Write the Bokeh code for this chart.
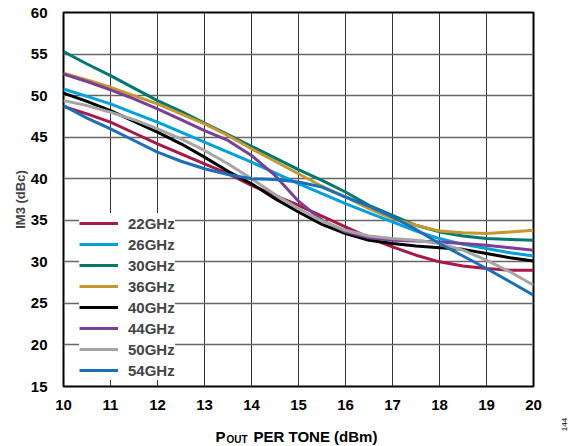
from bokeh.plotting import figure
from bokeh.layouts import column
from bokeh.models import Legend, LegendItem, Range1d, FixedTicker, LinearAxis
from bokeh.core.properties import value
from bokeh.embed import file_html
from bokeh.resources import INLINE

# ---- data (at half-dBm steps) ----
pout = [10, 10.5, 11, 11.5, 12, 12.5, 13, 13.5, 14, 14.5, 15,
        15.5, 16, 16.5, 17, 17.5, 18, 18.5, 19, 19.5, 20]
im3_22 = [48.7, 47.8, 46.8, 45.5, 44.2, 43.0, 41.8, 40.6, 39.2, 38.0, 36.8,
          35.5, 34.2, 32.9, 31.8, 30.8, 30.0, 29.5, 29.2, 29.0, 29.0]
im3_26 = [50.8, 49.9, 49.0, 47.9, 46.8, 45.6, 44.4, 43.2, 42.0, 40.7, 39.4,
          38.2, 37.0, 35.9, 34.8, 33.7, 32.8, 32.1, 31.6, 31.1, 30.7]
im3_30 = [55.3, 53.8, 52.4, 50.9, 49.4, 48.1, 46.7, 45.3, 43.9, 42.5, 41.1,
          39.8, 38.4, 36.8, 35.6, 34.4, 33.6, 33.1, 32.8, 32.7, 32.6]
im3_36 = [52.7, 51.9, 51.0, 50.0, 49.0, 47.8, 46.6, 45.2, 43.6, 42.1, 40.6,
          39.1, 37.8, 36.4, 35.2, 34.4, 33.7, 33.5, 33.4, 33.6, 33.8]
im3_40 = [50.3, 49.3, 48.2, 46.9, 45.6, 44.2, 42.6, 40.9, 39.4, 37.6, 36.0,
          34.5, 33.4, 32.6, 32.2, 31.9, 31.7, 31.5, 31.0, 30.5, 30.1]
im3_44 = [52.6, 51.7, 50.7, 49.6, 48.4, 47.1, 45.8, 44.6, 42.8, 40.4, 37.3,
          35.0, 33.6, 32.9, 32.6, 32.5, 32.4, 32.2, 32.0, 31.7, 31.4]
im3_50 = [49.4, 48.8, 48.0, 47.1, 46.0, 44.8, 43.4, 41.8, 40.0, 38.1, 36.4,
          34.9, 33.8, 33.1, 32.8, 32.6, 32.2, 31.4, 30.2, 28.8, 27.2]
im3_54 = [48.8, 47.3, 46.0, 44.6, 43.2, 42.1, 41.2, 40.5, 40.0, 39.9, 39.6,
          39.0, 37.8, 36.7, 35.4, 33.9, 32.2, 30.7, 29.2, 27.6, 26.0]
series_names = ["22GHz", "26GHz", "30GHz", "36GHz", "40GHz", "44GHz", "50GHz", "54GHz"]
series_values = [im3_22, im3_26, im3_30, im3_36, im3_40, im3_44, im3_50, im3_54]
x_ticks = [10, 11, 12, 13, 14, 15, 16, 17, 18, 19, 20]
y_ticks = [15, 20, 25, 30, 35, 40, 45, 50, 55, 60]

colors = ["#A8194B", "#00A2DE", "#00776F", "#C5972E", "#000000",
          "#7C3F97", "#A5A5A5", "#1A70B8"]

FONT = "Liberation Sans"

p = figure(width=579, height=412, output_backend="svg", toolbar_location=None,
           x_range=Range1d(10, 20), y_range=Range1d(15, 60),
           min_border_left=63, min_border_right=46, min_border_top=12,
           min_border_bottom=26)
p.background_fill_color = "white"
p.border_fill_color = "white"
p.outline_line_color = "black"
p.outline_line_width = 2

p.xaxis.ticker = FixedTicker(ticks=x_ticks)
p.yaxis.ticker = FixedTicker(ticks=y_ticks)
for ax in (p.xaxis, p.yaxis):
    ax.axis_line_color = None
    ax.major_tick_line_color = None
    ax.minor_tick_line_color = None
    ax.major_label_text_font = FONT
    ax.major_label_text_font_style = "bold"
    ax.major_label_text_font_size = "15px"
    ax.major_label_text_color = "black"
p.xaxis.major_label_standoff = 7
p.yaxis.major_label_standoff = 10
p.yaxis.axis_label = "IM3 (dBc)"
p.yaxis.axis_label_text_font = FONT
p.yaxis.axis_label_text_font_style = "bold"
p.yaxis.axis_label_text_font_size = "13px"
p.yaxis.axis_label_standoff = 0

p.xgrid.ticker = FixedTicker(ticks=x_ticks)
p.ygrid.ticker = FixedTicker(ticks=y_ticks)
p.xgrid.grid_line_color = "#333333"
p.ygrid.grid_line_color = "#666666"
p.xgrid.grid_line_width = 1
p.ygrid.grid_line_width = 1.3

items = []
for name, vals, col in zip(series_names, series_values, colors):
    r = p.line(pout, vals, line_color=col, line_width=3)
    items.append(LegendItem(label=name, renderers=[r]))

legend = Legend(items=items, location=(16, 6), margin=0, padding=5, spacing=1,
                glyph_width=39, glyph_height=20, label_height=20, label_standoff=10,
                label_text_font=FONT, label_text_font_style="bold",
                label_text_font_size="15px", background_fill_color="white",
                background_fill_alpha=1.0, border_line_color=None)
p.add_layout(legend)

# ---- strip below the chart: x-axis title (with subscript) and figure number ----
# its frame is aligned with the chart frame (page x 63..533), so map it 1:1 in pixels
t = figure(width=579, height=34, output_backend="svg", toolbar_location=None,
           x_range=Range1d(63, 533), y_range=Range1d(34, 0),
           x_axis_type=None, y_axis_type=None,
           min_border_left=63, min_border_right=46, min_border_top=0, min_border_bottom=0)
t.outline_line_color = None
t.background_fill_color = "white"
t.border_fill_color = "white"
t.xgrid.visible = False
t.ygrid.visible = False

t.text(x=[215], y=[24], text=["P"], text_font=value(FONT), text_font_style="bold",
       text_font_size="15px", text_baseline="alphabetic", text_align="left",
       text_color="black")
t.text(x=[226], y=[27], text=["OUT"], text_font=value(FONT), text_font_style="bold",
       text_font_size="10px", text_baseline="alphabetic", text_align="left",
       text_color="black")
t.text(x=[253], y=[24], text=["PER TONE (dBm)"], text_font=value(FONT),
       text_font_style="bold", text_font_size="15px", text_baseline="alphabetic",
       text_align="left", text_color="black")

fig_no = LinearAxis(ticker=FixedTicker(ticks=[8]), major_label_overrides={8: "144"},
                    axis_line_color=None, major_tick_line_color=None,
                    minor_tick_line_color=None, major_label_orientation=1.5708,
                    major_label_standoff=25, major_label_text_font=FONT,
                    major_label_text_font_size="8px", major_label_text_color="black")
t.add_layout(fig_no, "right")

page = column(p, t, spacing=0)
open("out.html", "w").write(file_html(page, INLINE))
